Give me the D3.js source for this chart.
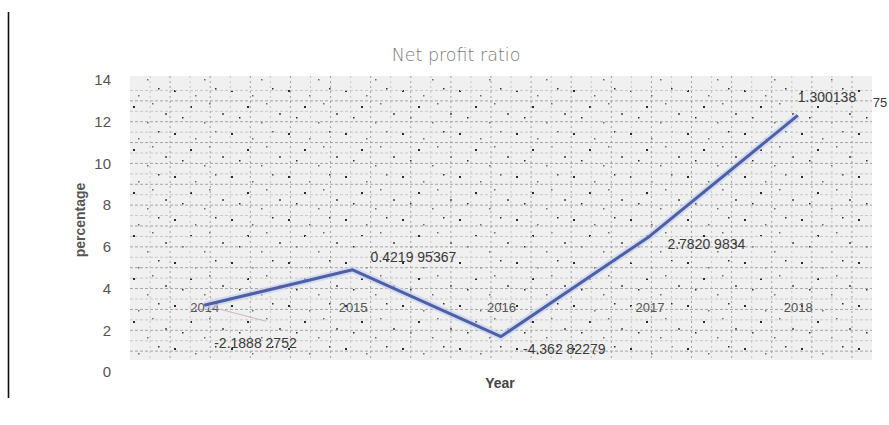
<!DOCTYPE html>
<html>
<head>
<meta charset="utf-8">
<script src="https://cdn.jsdelivr.net/npm/d3@7"></script>
<style>
  body { margin: 0; background: #fff; }
  svg { display: block; font-family: "Liberation Sans", Arial, sans-serif; }
</style>
</head>
<body>
<svg id="chart" width="889" height="425"></svg>
<script>
// chart values
var years = ["2014", "2015", "2016", "2017", "2018"];
var ratio = [3.2, 4.9, 1.7, 6.5, 12.3];
var dataLabels = ["-2.1888 2752", "0.4219 95367", "-4.362 82279", "2.7820 9834", "1.300138"];
var yTicks = [0, 2, 4, 6, 8, 10, 12, 14];

// where each data label sits relative to its point
var labelOffsets = [[10, 43], [18, -8], [22, 17], [18, 13], [0, -13]];

var svg = d3.select("#chart");

var plotLeft = 130, plotRight = 872, plotTop = 76, plotBottom = 360;

var x = d3.scalePoint()
  .domain(years)
  .range([plotLeft, plotRight])
  .padding(0.5);

var y = d3.scaleLinear()
  .domain([0, 14])
  .range([372, 80]);

// left border line
svg.append("line")
  .attr("x1", 8.5).attr("x2", 8.5)
  .attr("y1", 12).attr("y2", 398)
  .attr("stroke", "#111")
  .attr("stroke-width", 1.6);

// speckle pattern for the plot background
var defs = svg.append("defs");
var pat = defs.append("pattern")
  .attr("id", "speckle")
  .attr("patternUnits", "userSpaceOnUse")
  .attr("width", 57).attr("height", 43);
pat.append("rect").attr("width", 57).attr("height", 43).attr("fill", "#f0f0f0");
var dots = [[3, 4], [24, 9], [44, 2], [51, 27], [11, 31], [33, 36], [19, 20], [38, 17]];
dots.forEach(function(d, i) {
  pat.append("rect")
    .attr("x", d[0]).attr("y", d[1])
    .attr("width", i % 3 == 0 ? 2 : 1.5)
    .attr("height", i % 3 == 0 ? 2 : 1.5)
    .attr("fill", i % 2 == 0 ? "#2a2a2a" : "#6a6a6a");
});

svg.append("rect")
  .attr("x", plotLeft).attr("y", plotTop)
  .attr("width", plotRight - plotLeft)
  .attr("height", plotBottom - plotTop)
  .attr("fill", "url(#speckle)");

// dotted gridlines
var hGrid = d3.range(0.5, 14, 0.5).filter(function(v) { return y(v) > plotTop && y(v) < plotBottom; });
svg.append("g").selectAll("line")
  .data(hGrid)
  .enter().append("line")
    .attr("x1", plotLeft).attr("x2", plotRight)
    .attr("y1", function(d) { return y(d); })
    .attr("y2", function(d) { return y(d); })
    .attr("stroke", function(d) { return d % 1 == 0 ? "#a5a5a5" : "#c8c8c8"; })
    .attr("stroke-width", 1)
    .attr("stroke-dasharray", "3,2");

var gx = d3.scaleLinear().domain([0, 37]).range([plotLeft, plotRight]);
svg.append("g").selectAll("line")
  .data(d3.range(1, 37))
  .enter().append("line")
    .attr("x1", function(d) { return gx(d); })
    .attr("x2", function(d) { return gx(d); })
    .attr("y1", plotTop).attr("y2", plotBottom)
    .attr("stroke", function(d) { return d % 2 == 0 ? "#a0a0a0" : "#c6c6c6"; })
    .attr("stroke-width", 1)
    .attr("stroke-dasharray", "2,3");

// title
svg.append("text")
  .attr("x", 456).attr("y", 61)
  .attr("text-anchor", "middle")
  .attr("font-size", 17.5)
  .attr("fill", "#7a7a7a")
  .attr("font-family", "'DejaVu Sans', sans-serif")
  .attr("font-weight", 300)
  .text("Net profit ratio");

// y axis (labels only)
var yAxis = d3.axisLeft(y).tickValues(yTicks).tickSize(0).tickPadding(0);
var gy = svg.append("g")
  .attr("transform", "translate(111,0)")
  .call(yAxis);
gy.select(".domain").remove();
gy.selectAll("text")
  .attr("font-size", 15)
  .attr("fill", "#555")
  .attr("font-family", "'Liberation Sans', sans-serif");

// axis titles
svg.append("text")
  .attr("transform", "translate(85,220) rotate(-90)")
  .attr("text-anchor", "middle")
  .attr("font-size", 14)
  .attr("font-weight", "bold")
  .attr("fill", "#555")
  .text("percentage");

svg.append("text")
  .attr("x", 500).attr("y", 388)
  .attr("text-anchor", "middle")
  .attr("font-size", 14)
  .attr("font-weight", "bold")
  .attr("fill", "#444")
  .text("Year");

// category labels sit inside the plot
var xAxis = d3.axisBottom(x).tickSize(0).tickPadding(0);
var gxa = svg.append("g")
  .attr("transform", "translate(0," + (y(3) - 7) + ")")
  .call(xAxis);
gxa.select(".domain").remove();
gxa.selectAll("text")
  .attr("font-size", 13)
  .attr("fill", "#555");

// leader line for the first label
svg.append("line")
  .attr("x1", x(years[0]) + 8).attr("y1", y(ratio[0]) + 2)
  .attr("x2", x(years[0]) + 62).attr("y2", y(ratio[0]) + 16)
  .attr("stroke", "#c9b9bd")
  .attr("stroke-width", 1);

// line series
var line = d3.line()
  .x(function(d, i) { return x(years[i]); })
  .y(function(d) { return y(d); });

svg.append("path")
  .datum(ratio)
  .attr("d", line)
  .attr("fill", "none")
  .attr("stroke", "#c9d3ee")
  .attr("stroke-width", 7)
  .attr("stroke-opacity", 0.7);

svg.append("path")
  .datum(ratio)
  .attr("d", line)
  .attr("fill", "none")
  .attr("stroke", "#4d5fa6")
  .attr("stroke-width", 3)
  .attr("stroke-linejoin", "round");

// data labels
svg.append("g").selectAll("text")
  .data(ratio)
  .enter().append("text")
    .attr("x", function(d, i) { return x(years[i]) + labelOffsets[i][0]; })
    .attr("y", function(d, i) { return y(d) + labelOffsets[i][1]; })
    .attr("font-size", 14)
    .attr("fill", "#3a3a3a")
    .text(function(d, i) { return dataLabels[i]; });

svg.append("text")
  .attr("x", x(years[4]) + 75)
  .attr("y", y(ratio[4]) - 8)
  .attr("font-size", 13)
  .attr("fill", "#3a3a3a")
  .text("75");
</script>
</body>
</html>
